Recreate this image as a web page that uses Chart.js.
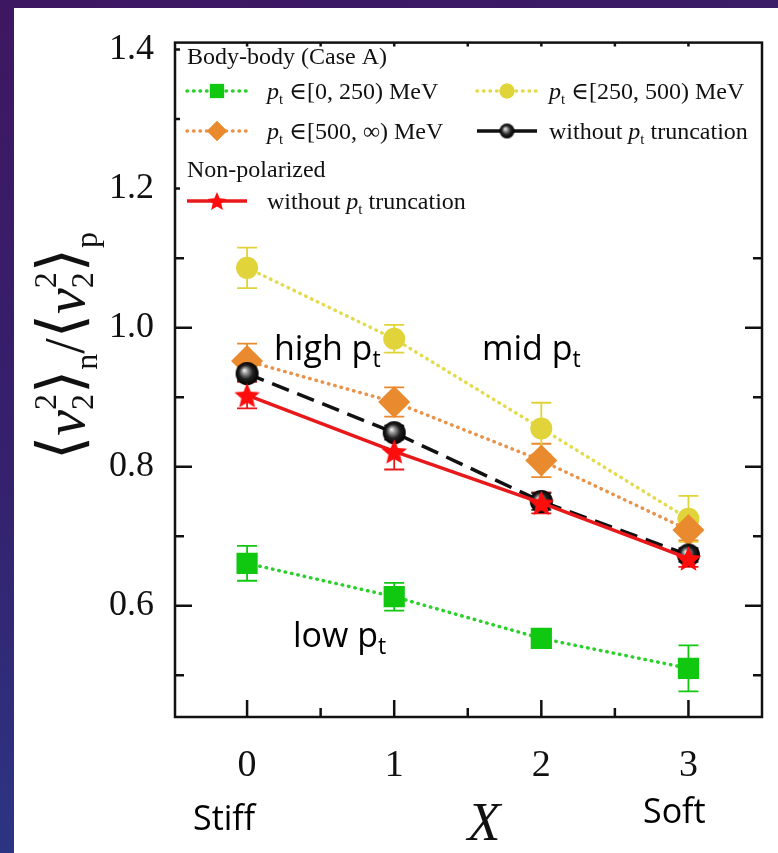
<!DOCTYPE html>
<html>
<head>
<meta charset="utf-8">
<script src="https://cdn.jsdelivr.net/npm/chart.js@4.4.1/dist/chart.umd.min.js"></script>
<style>
  html, body { margin: 0; padding: 0; }
  body { width: 778px; height: 853px; overflow: hidden; position: relative;
         background: linear-gradient(165deg, #3e1762 0%, #35216d 45%, #27408f 100%); }
  #sheet { position: absolute; left: 14px; top: 8px; right: 0; bottom: 0; background: #fff; }
  #chart { position: absolute; left: 0; top: 0; }
</style>
</head>
<body>
<div id="sheet"></div>
<canvas id="chart" width="778" height="853"></canvas>
<script>
// X = 0 (stiff) ... 3 (soft)
const xValues = [0, 1, 2, 3];
const lowPt = [0.661, 0.613, 0.553, 0.510];
const lowPtErr = [0.025, 0.020, 0.012, 0.033];
const midPt = [1.086, 0.984, 0.855, 0.725];
const midPtErr = [0.029, 0.020, 0.037, 0.033];
const highPt = [0.952, 0.893, 0.809, 0.709];
const highPtErr = [0.025, 0.021, 0.024, 0.015];
const allPt = [0.934, 0.849, 0.750, 0.673];
const allPtErr = [0.010, 0.010, 0.012, 0.010];
const nonPol = [0.903, 0.822, 0.748, 0.668];
const nonPolErr = [0.019, 0.026, 0.015, 0.012];
const yTickValues = [0.6, 0.8, 1.0, 1.2, 1.4];
const yMinorValues = [0.5, 0.7, 0.9, 1.1, 1.3];
const xMinorValues = [0.5, 1.5, 2.5];

const serif = '"Liberation Serif", "DejaVu Serif", serif';
const sans = '"Open Sans", "Noto Sans", sans-serif';

function makeStar(r, fill) {
  const c = document.createElement('canvas');
  const s = Math.ceil(r * 2 + 2);
  c.width = s; c.height = s;
  const g = c.getContext('2d');
  g.translate(s / 2, s / 2 + r * 0.1);
  g.beginPath();
  for (let k = 0; k < 10; k++) {
    const rr = k % 2 ? r * 0.45 : r;
    const a = -Math.PI / 2 + k * Math.PI / 5;
    g.lineTo(rr * Math.cos(a), rr * Math.sin(a));
  }
  g.closePath();
  g.fillStyle = fill;
  g.fill();
  return c;
}

function makeBall(r) {
  const c = document.createElement('canvas');
  const s = Math.ceil(r * 2 + 2);
  c.width = s; c.height = s;
  const g = c.getContext('2d');
  const grad = g.createRadialGradient(s / 2 - r * 0.25, s / 2 - r * 0.3, 0, s / 2, s / 2, r);
  grad.addColorStop(0, '#ffffff');
  grad.addColorStop(0.25, '#9a9a9a');
  grad.addColorStop(0.6, '#222');
  grad.addColorStop(1, '#000');
  g.beginPath();
  g.arc(s / 2, s / 2, r, 0, Math.PI * 2);
  g.fillStyle = grad;
  g.fill();
  return c;
}

const mk = (arr) => xValues.map((x, i) => ({x: x, y: arr[i]}));

const datasets = [
  {label: 'nonpol', data: mk(nonPol), err: nonPolErr, borderColor: '#e8191b', borderWidth: 3.5,
   pointStyle: makeStar(13.5, '#ff0d0d'), legendStyle: makeStar(10, '#ff0d0d')},
  {label: 'all', data: mk(allPt), err: allPtErr, borderColor: '#111', borderWidth: 3.5, borderDash: [18, 9],
   pointStyle: makeBall(11.5), legendStyle: makeBall(7.5), errColor: '#333'},
  {label: 'high', data: mk(highPt), err: highPtErr, borderColor: '#e9924a', backgroundColor: '#ea8a2e',
   borderWidth: 3.5, borderDash: [0.5, 6], borderCapStyle: 'round', pointStyle: 'rectRot', pointRadius: 16,
   legendRadius: 10},
  {label: 'mid', data: mk(midPt), err: midPtErr, borderColor: '#e3db4a', backgroundColor: '#e0d43a',
   borderWidth: 3.5, borderDash: [0.5, 6], borderCapStyle: 'round', pointStyle: 'circle', pointRadius: 11,
   legendRadius: 7.5},
  {label: 'low', data: mk(lowPt), err: lowPtErr, borderColor: '#2bd12b', backgroundColor: '#10c810',
   borderWidth: 3.5, borderDash: [0.5, 6], borderCapStyle: 'round', pointStyle: 'rect', pointRadius: 15,
   legendRadius: 10}
];
datasets.forEach(d => { d.pointBorderWidth = 0; d.pointHoverRadius = d.pointRadius; d.pointBackgroundColor = d.backgroundColor; d.fill = false; });

function drawRich(ctx, parts, x, y, align, color) {
  let total = 0;
  for (const p of parts) {
    ctx.font = p.f;
    p.w = ctx.measureText(p.t).width;
    if (!p.stay) total += p.w + (p.gap || 0);
  }
  let cx = align === 'center' ? x - total / 2 : (align === 'right' ? x - total : x);
  ctx.textAlign = 'left';
  ctx.textBaseline = 'alphabetic';
  ctx.fillStyle = color || '#111';
  for (const p of parts) {
    ctx.font = p.f;
    ctx.fillText(p.t, cx, y + (p.dy || 0));
    if (!p.stay) cx += p.w + (p.gap || 0);
  }
}

const LF = '24px ' + serif, LI = 'italic 24px ' + serif, LS = '15px ' + serif;
const ptLabel = (rest) => [
  {t: 'p', f: LI},
  {t: 't', f: LS, dy: 5},
  {t: ' \u2208' + rest, f: LF}
];
const noTrunc = () => [
  {t: 'without ', f: LF},
  {t: 'p', f: LI},
  {t: 't', f: LS, dy: 5},
  {t: ' truncation', f: LF}
];

function legendSample(ctx, ds, x0, x1, y) {
  ctx.save();
  ctx.strokeStyle = ds.borderColor;
  ctx.lineWidth = ds.borderWidth;
  ctx.lineCap = ds.borderCapStyle || 'butt';
  ctx.setLineDash(ds.borderDash ? (ds.label === 'all' ? [] : ds.borderDash) : []);
  ctx.beginPath();
  ctx.moveTo(x0, y); ctx.lineTo(x1, y);
  ctx.stroke();
  ctx.restore();
  const cx = (x0 + x1) / 2;
  if (ds.legendStyle) {
    ctx.drawImage(ds.legendStyle, cx - ds.legendStyle.width / 2, y - ds.legendStyle.height / 2);
  } else {
    ctx.save();
    ctx.fillStyle = ds.backgroundColor;
    Chart.helpers.drawPoint(ctx, {pointStyle: ds.pointStyle, radius: ds.legendRadius, rotation: 0, borderWidth: 0}, cx, y);
    ctx.fill();
    ctx.restore();
  }
}

const errorBars = {
  id: 'errorBars',
  beforeDatasetsDraw(chart) {
    const ctx = chart.ctx, xs = chart.scales.x, ys = chart.scales.y;
    ctx.save();
    chart.data.datasets.forEach(ds => {
      ctx.strokeStyle = ds.errColor || ds.backgroundColor || ds.borderColor;
      ctx.lineWidth = 1.8;
      ds.data.forEach((p, i) => {
        const px = xs.getPixelForValue(p.x);
        const yTop = ys.getPixelForValue(p.y + ds.err[i]);
        const yBot = ys.getPixelForValue(p.y - ds.err[i]);
        ctx.beginPath();
        ctx.moveTo(px, yTop); ctx.lineTo(px, yBot);
        ctx.moveTo(px - 10, yTop); ctx.lineTo(px + 10, yTop);
        ctx.moveTo(px - 10, yBot); ctx.lineTo(px + 10, yBot);
        ctx.stroke();
      });
    });
    ctx.restore();
  }
};

const decorations = {
  id: 'decorations',
  afterDatasetsDraw(chart) {
    const ctx = chart.ctx, ca = chart.chartArea, xs = chart.scales.x, ys = chart.scales.y;
    ctx.save();
    ctx.strokeStyle = '#111';
    ctx.lineWidth = 2.5;
    // inward ticks
    ctx.beginPath();
    yTickValues.forEach(v => {
      const py = ys.getPixelForValue(v);
      ctx.moveTo(ca.left, py); ctx.lineTo(ca.left + 17, py);
      if (v < 1.15) { ctx.moveTo(ca.right, py); ctx.lineTo(ca.right - 17, py); }
    });
    yMinorValues.forEach(v => {
      const py = ys.getPixelForValue(v);
      ctx.moveTo(ca.left, py); ctx.lineTo(ca.left + 9, py);
      if (v < 1.15) { ctx.moveTo(ca.right, py); ctx.lineTo(ca.right - 9, py); }
    });
    xValues.forEach(v => {
      const px = xs.getPixelForValue(v);
      ctx.moveTo(px, ca.bottom); ctx.lineTo(px, ca.bottom - 17);
      ctx.moveTo(px, ca.top); ctx.lineTo(px, ca.top + 4);
    });
    xMinorValues.forEach(v => {
      const px = xs.getPixelForValue(v);
      ctx.moveTo(px, ca.bottom); ctx.lineTo(px, ca.bottom - 9);
      ctx.moveTo(px, ca.top); ctx.lineTo(px, ca.top + 4);
    });
    ctx.stroke();

    // legend panel
    ctx.fillStyle = '#fff';
    ctx.fillRect(ca.left + 5, ca.top + 5, ca.right - ca.left - 8, 185);

    // frame
    ctx.strokeRect(ca.left, ca.top, ca.right - ca.left, ca.bottom - ca.top);

    const byLabel = {};
    chart.data.datasets.forEach(d => { byLabel[d.label] = d; });
    drawRich(ctx, [{t: 'Body-body (Case A)', f: LF}], 187, 64);
    legendSample(ctx, byLabel.low, 187, 247, 91);
    drawRich(ctx, ptLabel('[0, 250) MeV'), 267, 99);
    legendSample(ctx, byLabel.mid, 477, 537, 91);
    drawRich(ctx, ptLabel('[250, 500) MeV'), 549, 99);
    legendSample(ctx, byLabel.high, 187, 247, 131);
    drawRich(ctx, ptLabel('[500, \u221e) MeV'), 267, 139);
    legendSample(ctx, byLabel.all, 477, 537, 131);
    drawRich(ctx, noTrunc(), 549, 139);
    drawRich(ctx, [{t: 'Non-polarized', f: LF}], 187, 177);
    legendSample(ctx, byLabel.nonpol, 187, 247, 201);
    drawRich(ctx, noTrunc(), 267, 209);
    ctx.restore();
  },
  afterDraw(chart) {
    const ctx = chart.ctx;
    ctx.save();
    // annotations
    const AF = '34px ' + sans, AS = '23px ' + sans;
    drawRich(ctx, [{t: 'high p', f: AF}, {t: 't', f: AS, dy: 7}], 274, 360, 'left', '#000');
    drawRich(ctx, [{t: 'mid p', f: AF}, {t: 't', f: AS, dy: 7}], 482, 360, 'left', '#000');
    drawRich(ctx, [{t: 'low p', f: AF}, {t: 't', f: AS, dy: 7}], 293, 647, 'left', '#000');
    drawRich(ctx, [{t: 'Stiff', f: '34px ' + sans}], 193, 830, 'left', '#000');
    drawRich(ctx, [{t: 'Soft', f: '34px ' + sans}], 643, 823, 'left', '#000');
    drawRich(ctx, [{t: 'X', f: 'italic 54px ' + serif}], 484, 840, 'center');

    // y axis title, rotated
    const big = '56px ' + serif, br = '62px "DejaVu Serif", serif', vi = 'italic 58px ' + serif, sm = '32px ' + serif;
    const title = [
      {t: '\u27e8', f: br, dy: -3},
      {t: 'v', f: vi},
      {t: '2', f: sm, dy: -28, stay: true},
      {t: '2', f: sm, dy: 9},
      {t: '\u27e9', f: br, dy: -3},
      {t: 'n', f: sm, dy: 13},
      {t: '/', f: big},
      {t: '\u27e8', f: br, dy: -3},
      {t: 'v', f: vi},
      {t: '2', f: sm, dy: -28, stay: true},
      {t: '2', f: sm, dy: 9},
      {t: '\u27e9', f: br, dy: -3},
      {t: 'p', f: sm, dy: 13}
    ];
    ctx.translate(84, 346);
    ctx.rotate(-Math.PI / 2);
    drawRich(ctx, title, 0, 0, 'center');
    ctx.restore();
  }
};

new Chart(document.getElementById('chart'), {
  type: 'line',
  data: {datasets: datasets},
  options: {
    responsive: false,
    animation: false,
    events: [],
    layout: {padding: {top: 32, right: 8, left: 0, bottom: 0}},
    plugins: {legend: {display: false}, tooltip: {enabled: false}},
    scales: {
      x: {
        type: 'linear', min: -0.49, max: 3.5,
        afterBuildTicks: s => { s.ticks = xValues.map(v => ({value: v})); },
        afterFit: s => { s.height = 136; },
        grid: {display: false, drawTicks: false},
        border: {display: false},
        ticks: {font: {family: serif, size: 38}, color: '#111', padding: 26, autoSkip: false, maxRotation: 0,
                callback: v => String(v)}
      },
      y: {
        type: 'linear', min: 0.44, max: 1.41,
        afterBuildTicks: s => { s.ticks = yTickValues.map(v => ({value: v})); },
        afterFit: s => { s.width = 175; },
        grid: {display: false, drawTicks: false},
        border: {display: false},
        ticks: {font: {family: serif, size: 36}, color: '#111', padding: 21, autoSkip: false,
                callback: v => v.toFixed(1)}
      }
    }
  },
  plugins: [errorBars, decorations]
});
</script>
</body>
</html>
